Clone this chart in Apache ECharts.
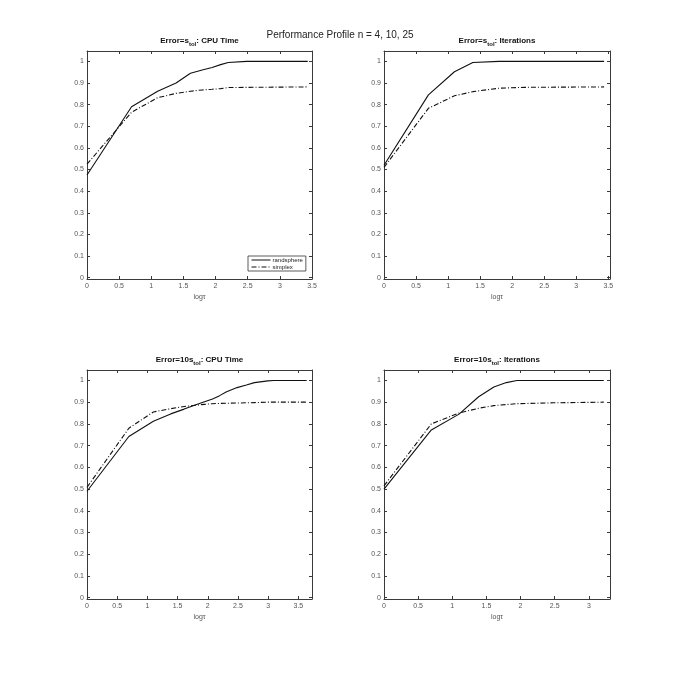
<!DOCTYPE html>
<html>
<head>
<meta charset="utf-8">
<script src="https://cdn.jsdelivr.net/npm/echarts@6/dist/echarts.min.js"></script>
<style>
html, body { margin: 0; padding: 0; background: #fff; }
#main { width: 674px; height: 674px; }
</style>
</head>
<body>
<div id="main"></div>
<script>
// log(tau) points and profile values
var tlX    = [0, 0.693, 1.099, 1.386, 1.609, 1.792, 1.946, 2.079, 2.197, 2.485, 3.434];
var tlRand = [0.475, 0.79, 0.862, 0.9, 0.945, 0.96, 0.972, 0.985, 0.995, 1.0, 1.0];
var tlSimp = [0.525, 0.765, 0.832, 0.852, 0.862, 0.868, 0.871, 0.874, 0.879, 0.88, 0.882];

var trRandX = [0, 0.693, 1.099, 1.386, 1.792, 3.434];
var trRand  = [0.52, 0.845, 0.952, 0.995, 1.0, 1.0];
var trSimpX = [0, 0.693, 1.099, 1.386, 1.792, 2.197, 3.434];
var trSimp  = [0.51, 0.783, 0.841, 0.86, 0.876, 0.88, 0.882];

var blX    = [0, 0.693, 1.099, 1.386, 1.609, 1.792, 1.946, 2.079, 2.197, 2.303, 2.485, 2.639, 2.773, 2.996, 3.091, 3.638];
var blRand = [0.49, 0.742, 0.812, 0.846, 0.868, 0.887, 0.902, 0.915, 0.93, 0.947, 0.967, 0.979, 0.99, 0.998, 1.0, 1.0];
var blSimp = [0.508, 0.78, 0.855, 0.87, 0.88, 0.886, 0.89, 0.893, 0.894, 0.895, 0.896, 0.897, 0.898, 0.9, 0.9, 0.9];

var brRandX = [0, 0.693, 1.099, 1.386, 1.609, 1.792, 1.946, 3.219];
var brRand  = [0.50, 0.772, 0.845, 0.925, 0.97, 0.99, 1.0, 1.0];
var brSimpX = [0, 0.693, 1.099, 1.386, 1.609, 1.946, 2.485, 3.219];
var brSimp  = [0.515, 0.80, 0.85, 0.872, 0.884, 0.893, 0.897, 0.9];

var xMax = [3.5, 3.526, 3.726, 3.31];
var xTicks = [
    [0, 0.5, 1, 1.5, 2, 2.5, 3, 3.5],
    [0, 0.5, 1, 1.5, 2, 2.5, 3, 3.5],
    [0, 0.5, 1, 1.5, 2, 2.5, 3, 3.5],
    [0, 0.5, 1, 1.5, 2, 2.5, 3]
];
var yTicks = [0, 0.1, 0.2, 0.3, 0.4, 0.5, 0.6, 0.7, 0.8, 0.9, 1];

var panelTitles = [
    '{b|Error=s}{s|tol}{b|: CPU Time}',
    '{b|Error=s}{s|tol}{b|: Iterations}',
    '{b|Error=10s}{s|tol}{b|: CPU Time}',
    '{b|Error=10s}{s|tol}{b|: Iterations}'
];

var grids = [
    {left: 87, top: 51, width: 225, height: 228},
    {left: 384, top: 51, width: 226, height: 228},
    {left: 87, top: 370, width: 225, height: 229},
    {left: 384, top: 370, width: 226, height: 229}
];

function pairs(xs, ys) {
    return xs.map(function (x, i) { return [x, ys[i]]; });
}

var axisColor = '#3a3a3a';
var labelColor = '#555';

var xAxes = [], yAxes = [], titles = [], series = [];

titles.push({
    text: 'Performance Profile n = 4, 10, 25',
    left: 340, top: 30, textAlign: 'center', padding: 0,
    textStyle: {fontSize: 10, fontWeight: 'normal', color: '#222', fontFamily: 'Liberation Sans'}
});

for (var i = 0; i < 4; i++) {
    var g = grids[i];
    ['bottom', 'top'].forEach(function (pos) {
        xAxes.push({
            type: 'value', gridIndex: i, position: pos, min: 0, max: xMax[i],
            axisLine: {show: true, onZero: false, lineStyle: {color: axisColor, width: 1}},
            axisTick: {show: true, inside: true, length: 3, customValues: xTicks[i], lineStyle: {color: axisColor}},
            axisLabel: {show: pos === 'bottom', customValues: xTicks[i], fontSize: 7, color: labelColor, margin: 4,
                        fontFamily: 'Liberation Sans'},
            splitLine: {show: false},
            name: pos === 'bottom' ? 'logτ' : '',
            nameLocation: 'middle', nameGap: 15,
            nameTextStyle: {fontSize: 7, color: labelColor, fontFamily: 'Liberation Sans'}
        });
    });
    ['left', 'right'].forEach(function (pos) {
        yAxes.push({
            type: 'value', gridIndex: i, position: pos, min: -0.006, max: 1.048,
            axisLine: {show: true, onZero: false, lineStyle: {color: axisColor, width: 1}},
            axisTick: {show: true, inside: true, length: 3, customValues: yTicks, lineStyle: {color: axisColor}},
            axisLabel: {show: pos === 'left', customValues: yTicks, fontSize: 7, color: labelColor, margin: 3,
                        fontFamily: 'Liberation Sans'},
            splitLine: {show: false}
        });
    });
    titles.push({
        text: panelTitles[i],
        left: g.left + g.width / 2, top: g.top - 14, textAlign: 'center', padding: 0,
        textStyle: {
            fontFamily: 'Liberation Sans',
            rich: {
                b: {fontSize: 8, fontWeight: 'bold', color: '#111', verticalAlign: 'top', lineHeight: 10},
                s: {fontSize: 6, fontWeight: 'bold', color: '#111', verticalAlign: 'bottom', lineHeight: 10}
            }
        }
    });
}

var panelData = [
    [pairs(tlX, tlRand), pairs(tlX, tlSimp)],
    [pairs(trRandX, trRand), pairs(trSimpX, trSimp)],
    [pairs(blX, blRand), pairs(blX, blSimp)],
    [pairs(brRandX, brRand), pairs(brSimpX, brSimp)]
];

for (var p = 0; p < 4; p++) {
    series.push({
        name: 'randsphere', type: 'line', xAxisIndex: p * 2, yAxisIndex: p * 2,
        data: panelData[p][0], symbol: 'none', animation: false,
        lineStyle: {color: '#111', width: 1.1, type: 'solid'}, itemStyle: {color: '#111'}
    });
    series.push({
        name: 'simplex', type: 'line', xAxisIndex: p * 2, yAxisIndex: p * 2,
        data: panelData[p][1], symbol: 'none', animation: false,
        lineStyle: {color: '#111', width: 1.1, type: [5, 2, 1, 2]}, itemStyle: {color: '#111'}
    });
}

var myChart = echarts.init(document.getElementById('main'));
var option = {
    backgroundColor: '#fff',
    animation: false,
    title: titles,
    legend: {
        data: ['randsphere', 'simplex'],
        orient: 'vertical', left: 248, top: 256,
        itemWidth: 19, itemHeight: 6, itemGap: 1,
        backgroundColor: '#fff', borderColor: '#333', borderWidth: 0.8,
        padding: [1, 3, 1, 3],
        itemStyle: {opacity: 0},
        lineStyle: {width: 1},
        textStyle: {fontSize: 6, color: '#222', fontFamily: 'Liberation Sans', padding: [0, 0, 0, -3]}
    },
    grid: grids,
    xAxis: xAxes,
    yAxis: yAxes,
    series: series
};
myChart.setOption(option);
</script>
</body>
</html>
